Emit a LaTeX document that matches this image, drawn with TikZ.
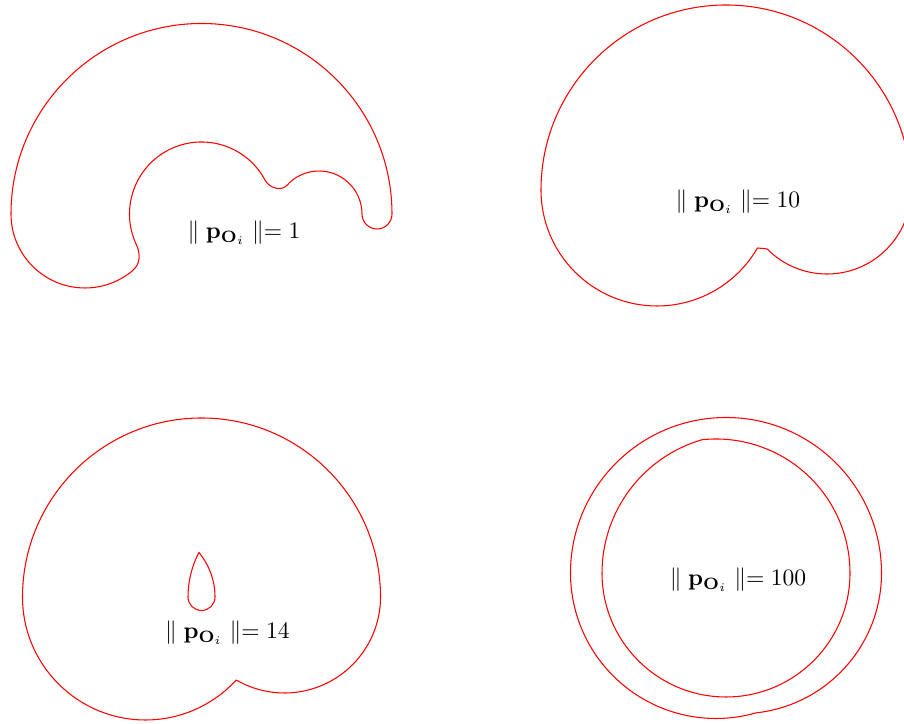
\documentclass[tikz,border=0pt]{standalone}
\usepackage{amsmath}
\begin{document}
\begin{tikzpicture}[x=0.425pt,y=0.425pt,
  shp/.style={draw=red,line width=0.45pt,line join=round},
  lbl/.style={inner sep=0pt,anchor=base,text=black}]
\useasboundingbox (0,0) rectangle (904,724);
\clip (0,0) rectangle (904,724);
% ---- shape 1 (||p||=1)
\draw[shp] (392,510) arc[start angle=0,end angle=180,radius=190.5]
  arc[start angle=180,end angle=310,radius=74]
  to[out=40,in=-65] (136.25,479.57)
  arc[start angle=205,end angle=28,radius=72]
  to[out=-62,in=228] (287.04,538.77)
  arc[start angle=138,end angle=0,radius=43]
  arc[start angle=180,end angle=360,radius=15] -- cycle;
\node[lbl] (l1) at (244,485) {$\parallel \mathbf{p}_{\mathbf{O}_i} \parallel= 1$};
% ---- shape 2 (||p||=10)
\draw[shp] (911,534) arc[start angle=0,end angle=180,radius=185]
  arc[start angle=180,end angle=330,radius=116]
  -- (767.1,475.1)
  arc[start angle=224.5,end angle=360,radius=84] -- cycle;
\node[lbl] (l2) at (738,516) {$\parallel \mathbf{p}_{\mathbf{O}_i} \parallel= 10$};
% ---- shape 3 (||p||=14)
\draw[shp] (380.5,127) arc[start angle=0,end angle=180,radius=179]
  arc[start angle=180,end angle=317.56,radius=123]
  arc[start angle=239.84,end angle=360,radius=96] -- cycle;
\draw[shp] (198.88,171.5) arc[start angle=39.82,end angle=0,radius=69.5]
  arc[start angle=0,end angle=-180,radius=13.5]
  arc[start angle=180,end angle=152.54,radius=96.5] -- cycle;
\node[lbl] (l3) at (227.5,85) {$\parallel \mathbf{p}_{\mathbf{O}_i} \parallel= 14$};
% ---- shape 4 (||p||=100)
\draw[shp] (881.5,151) arc[start angle=0,end angle=180,radius=155.5]
  arc[start angle=180,end angle=286,radius=145.5]
  arc[start angle=276.24,end angle=360,radius=140.7] -- cycle;
\draw[shp] (702,284.27) arc[start angle=96,end angle=0,radius=134]
  arc[start angle=0,end angle=-180,radius=124]
  arc[start angle=180,end angle=106.23,radius=138.8] -- cycle;
\node[lbl] (l4) at (738,138) {$\parallel \mathbf{p}_{\mathbf{O}_i} \parallel= 100$};
\end{tikzpicture}
\end{document}
